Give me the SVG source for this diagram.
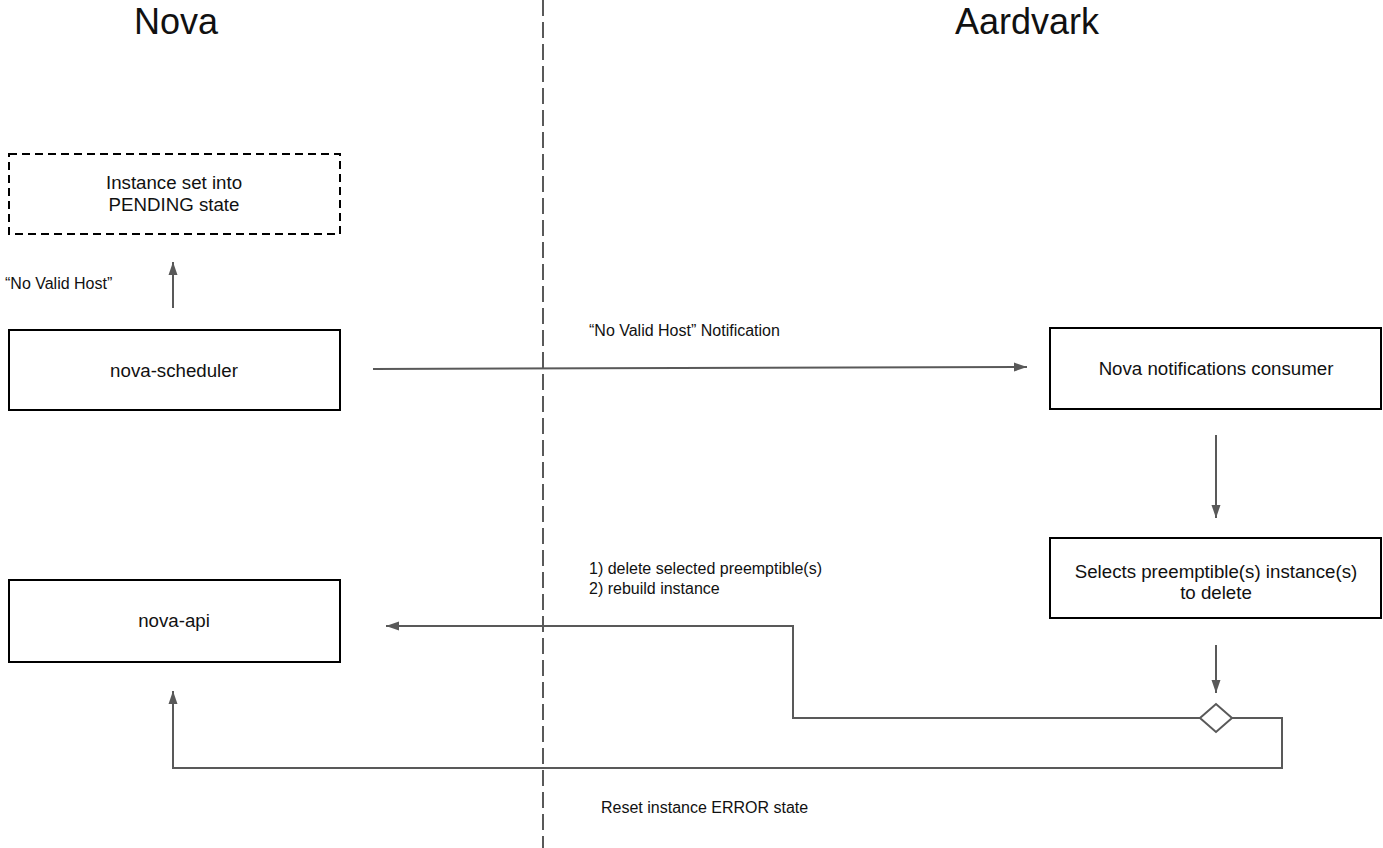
<svg xmlns="http://www.w3.org/2000/svg" width="1383" height="848" viewBox="0 0 1383 848">
<style>
text { font-family: "Liberation Sans", Arial, sans-serif; fill: #111; }
.title { font-size: 36px; text-anchor: middle; }
.node { font-size: 18.7px; text-anchor: middle; }
.lbl { font-size: 16px; }
.box { fill: #fff; stroke: #000; stroke-width: 2; }
.dbox { fill: #fff; stroke: #000; stroke-width: 2; stroke-dasharray: 8 5; }
.conn { fill: none; stroke: #595959; stroke-width: 2; }
</style>
<defs>
<marker id="ah" markerUnits="userSpaceOnUse" markerWidth="14" markerHeight="12" viewBox="0 0 14 12" refX="13" refY="6" orient="auto">
<path d="M0,1.5 L13,6 L0,10.5 Z" fill="#595959"/>
</marker>
</defs>
<rect width="1383" height="848" fill="#fff"/>
<line x1="543" y1="0" x2="543" y2="848" stroke="#595959" stroke-width="2" stroke-dasharray="16 6"/>
<text class="title" x="176" y="34">Nova</text>
<text class="title" x="1027" y="34">Aardvark</text>
<g id="pending">
<rect class="dbox" x="9" y="154" width="331" height="80"/>
<text class="node" x="174" y="189">Instance set into</text>
<text class="node" x="174" y="211">PENDING state</text>
</g>
<g id="nova-scheduler">
<rect class="box" x="9" y="330" width="331" height="80"/>
<text class="node" x="174" y="377">nova-scheduler</text>
</g>
<g id="nova-api">
<rect class="box" x="9" y="580" width="331" height="82"/>
<text class="node" x="174" y="627">nova-api</text>
</g>
<g id="consumer">
<rect class="box" x="1050" y="328" width="331" height="81"/>
<text class="node" x="1216" y="375">Nova notifications consumer</text>
</g>
<g id="selects">
<rect class="box" x="1050" y="538" width="331" height="80"/>
<text class="node" x="1216" y="578">Selects preemptible(s) instance(s)</text>
<text class="node" x="1216" y="599">to delete</text>
</g>
<g id="decision">
<polygon points="1200,718 1216,704 1232,718 1216,732" fill="#fff" stroke="#595959" stroke-width="2"/>
</g>
<g id="connectors">
<line class="conn" x1="173" y1="308" x2="173" y2="262" marker-end="url(#ah)"/>
<line class="conn" x1="373" y1="369" x2="1027" y2="367" marker-end="url(#ah)"/>
<line class="conn" x1="1216" y1="435" x2="1216" y2="518" marker-end="url(#ah)"/>
<line class="conn" x1="1216" y1="645" x2="1216" y2="693" marker-end="url(#ah)"/>
<polyline class="conn" points="1200,718 793,718 793,626 386,626" marker-end="url(#ah)"/>
<polyline class="conn" points="1232,718 1282,718 1282,768 173,768 173,691" marker-end="url(#ah)"/>
</g>
<g id="labels">
<text class="lbl" x="5" y="289">“No Valid Host”</text>
<text class="lbl" x="589" y="336">“No Valid Host” Notification</text>
<text class="lbl" x="589" y="574">1) delete selected preemptible(s)</text>
<text class="lbl" x="589" y="594">2) rebuild instance</text>
<text class="lbl" x="601" y="813">Reset instance ERROR state</text>
</g>
</svg>
